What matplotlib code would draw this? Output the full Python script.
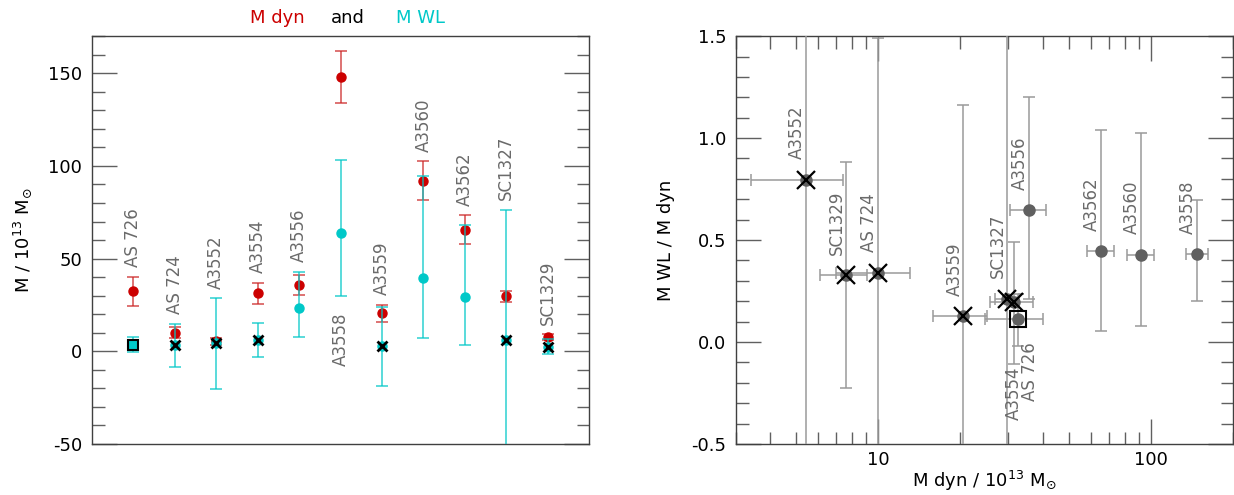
import matplotlib
matplotlib.use('Agg')
import matplotlib.pyplot as plt
import numpy as np
from matplotlib.ticker import MultipleLocator, LogLocator, FormatStrFormatter, FuncFormatter, NullFormatter

# clusters, in the order of the left panel
names = ['AS 726', 'AS 724', 'A3552', 'A3554', 'A3556', 'A3558',
         'A3559', 'A3560', 'A3562', 'SC1327', 'SC1329']
# dynamical mass and error (10^13 Msun)
m_dyn = [32.4, 10.0, 5.4, 31.3, 35.8, 148.0, 20.5, 92.0, 65.7, 29.7, 7.6]
m_dyn_err = [7.8, 3.0, 2.0, 5.6, 5.3, 13.8, 4.6, 10.5, 7.6, 3.0, 1.5]
# weak lensing mass, asymmetric errors
m_wl = [3.6, 3.4, 4.3, 6.2, 23.1, 63.6, 2.6, 39.4, 29.2, 6.3, 2.5]
m_wl_lo = [4.2, 11.8, 24.6, 9.5, 15.6, 33.8, 21.4, 32.3, 25.6, 72.0, 4.2]
m_wl_hi = [4.0, 11.5, 24.3, 9.1, 19.9, 39.7, 21.2, 55.0, 39.0, 70.0, 4.2]
# marker overlay: square, cross or plain
kind = ['square', 'cross', 'cross', 'cross', 'none', 'none',
        'cross', 'none', 'none', 'cross', 'cross']

RED = '#cc0000'
CYAN = '#00c8c8'
GREY = '#606060'
LABEL_GREY = '#6a6a6a'

plt.rcParams['font.family'] = ['DejaVu Sans']
plt.rcParams['axes.unicode_minus'] = False

fig = plt.figure(figsize=(12.34, 4.95), dpi=100)
ax1 = fig.add_axes([0.0746, 0.103, 0.4028, 0.824])
ax2 = fig.add_axes([0.5964, 0.103, 0.4028, 0.824])

for ax in (ax1, ax2):
    for s in ax.spines.values():
        s.set_color('#404040')
        s.set_linewidth(1.0)
    ax.tick_params(which='both', direction='in', color='#606060', labelsize=13,
                   top=True, right=True, pad=7)
    ax.tick_params(which='major', length=18, width=1)
    ax.tick_params(which='minor', length=9, width=1)

# ---- left panel: masses per cluster
x = np.arange(1, len(names) + 1)
dyn = np.array(m_dyn)
dyn_err = np.array(m_dyn_err)
wl = np.array(m_wl)
wl_lo = np.array(m_wl_lo)
wl_hi = np.array(m_wl_hi)

ax1.errorbar(x, dyn, yerr=dyn_err, fmt='o', color=RED, ms=6.5,
             ecolor=(0.8, 0.15, 0.15, 0.7), elinewidth=1.3, capsize=4, capthick=1.3, zorder=3)
ax1.errorbar(x, wl, yerr=[wl_lo, wl_hi], fmt='none',
             ecolor=(0.0, 0.78, 0.78, 0.7), elinewidth=1.3, capsize=4.5, capthick=1.3, zorder=4)
for i, k in enumerate(kind):
    if k == 'square':
        ax1.plot(x[i], wl[i], 's', ms=7, mfc=CYAN, mec='black', mew=1.5, zorder=5)
    else:
        ax1.plot(x[i], wl[i], 'o', ms=6.5, color=CYAN, zorder=5)
    if k == 'cross':
        ax1.plot(x[i], wl[i], 'x', ms=6.5, color='black', mew=2, zorder=6)

for i, n in enumerate(names):
    if n == 'A3558':
        y0 = min(dyn[i] - dyn_err[i], wl[i] - wl_lo[i])
        ax1.annotate(n, (x[i], y0), xytext=(0, -11.5), textcoords='offset points',
                     rotation=90, ha='center', va='top', fontsize=12, color=LABEL_GREY)
    else:
        y0 = max(dyn[i] + dyn_err[i], wl[i] + wl_hi[i])
        ax1.annotate(n, (x[i], y0), xytext=(0, 6.8), textcoords='offset points',
                     rotation=90, ha='center', va='bottom', fontsize=12, color=LABEL_GREY)

ax1.set_xlim(0, len(names) + 1)
ax1.set_ylim(-50, 170)
ax1.yaxis.set_major_locator(MultipleLocator(50))
ax1.yaxis.set_minor_locator(MultipleLocator(10))
ax1.tick_params(axis='x', which='both', bottom=False, top=False, labelbottom=False)
ax1.set_ylabel(r'M / 10$^{13}$ M$_{\odot}$', fontsize=13, labelpad=10)

ax1.text(0.372, 1.044, 'M dyn', color=RED, fontsize=13, ha='center', va='center', transform=ax1.transAxes)
ax1.text(0.514, 1.044, 'and', color='black', fontsize=13, ha='center', va='center', transform=ax1.transAxes)
ax1.text(0.660, 1.044, 'M WL', color=CYAN, fontsize=13, ha='center', va='center', transform=ax1.transAxes)

# ---- right panel: ratio against dynamical mass
ratio = wl / dyn
ratio_lo = wl_lo / dyn
ratio_hi = wl_hi / dyn

ax2.errorbar(dyn, ratio, xerr=dyn_err, yerr=[ratio_lo, ratio_hi], fmt='o', color=GREY, ms=8,
             ecolor='#9a9a9a', elinewidth=1.1, capsize=4, capthick=1.1, zorder=3)
for i, k in enumerate(kind):
    if k == 'cross':
        ax2.plot(dyn[i], ratio[i], 'x', ms=13, color='black', mew=1.6, zorder=5)
    elif k == 'square':
        ax2.plot(dyn[i], ratio[i], 's', ms=12, mfc='none', mec='black', mew=1.5, zorder=5)

for i, n in enumerate(names):
    if n == 'AS 726':
        ax2.annotate(n, (dyn[i], ratio[i]), xytext=(9, -16.5), textcoords='offset points',
                     rotation=90, ha='center', va='top', fontsize=12, color=LABEL_GREY)
    elif n == 'A3554':
        ax2.annotate(n, (dyn[i], ratio[i]), xytext=(0.5, -47), textcoords='offset points',
                     rotation=90, ha='center', va='top', fontsize=12, color=LABEL_GREY)
    else:
        ax2.annotate(n, (dyn[i], ratio[i]), xytext=(-6.5, 14.7), textcoords='offset points',
                     rotation=90, ha='center', va='bottom', fontsize=12, color=LABEL_GREY)

ax2.set_xscale('log')
ax2.set_xlim(3, 200)
ax2.set_ylim(-0.5, 1.5)
ax2.xaxis.set_major_locator(LogLocator(base=10))
ax2.xaxis.set_minor_locator(LogLocator(base=10, subs=np.arange(2, 10)))
ax2.xaxis.set_major_formatter(FuncFormatter(lambda v, _: f'{v:g}'))
ax2.xaxis.set_minor_formatter(NullFormatter())
ax2.tick_params(axis='x', which='both', pad=5)
ax2.yaxis.set_major_locator(MultipleLocator(0.5))
ax2.yaxis.set_minor_locator(MultipleLocator(0.1))
ax2.yaxis.set_major_formatter(FormatStrFormatter('%.1f'))
ax2.set_xlabel(r'M dyn / 10$^{13}$ M$_{\odot}$', fontsize=13, labelpad=0)
ax2.set_ylabel('M WL / M dyn', fontsize=13, labelpad=12)

fig.savefig('out.png', dpi=100)
